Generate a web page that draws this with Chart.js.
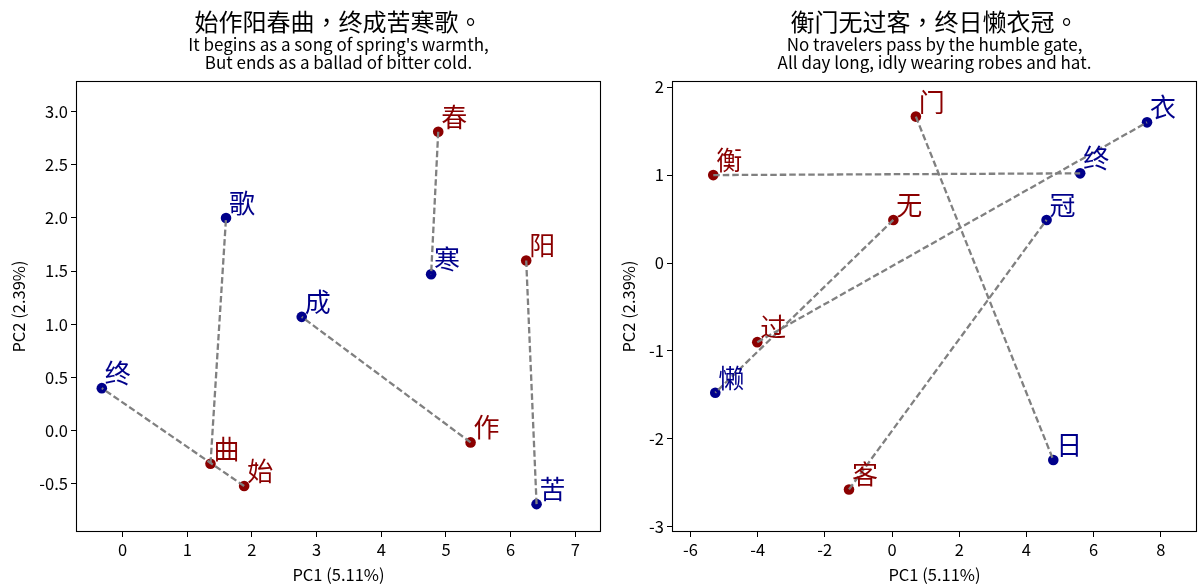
<!DOCTYPE html>
<html><head><meta charset="utf-8">
<script src="https://cdn.jsdelivr.net/npm/chart.js@4.4.1/dist/chart.umd.min.js"></script>
<style>
html,body{margin:0;padding:0;background:#fff;}
#wrap{position:relative;width:1198px;height:585px;overflow:hidden;}
canvas{position:absolute;top:0;}
</style></head><body>
<div id="wrap">
<canvas id="c1" width="603" height="585" style="left:0"></canvas>
<canvas id="c2" width="595" height="585" style="left:603px"></canvas>
</div>
<script>
const FONT = '"Noto Sans CJK TC", "Noto Sans CJK SC", "Noto Sans", sans-serif';
const RED = '#8b0000', BLUE = '#00008b', GRAY = '#808080';

// ---------- Left panel data ----------
const leftTitle = '始作阳春曲，终成苦寒歌。';
const leftSubtitle = ["It begins as a song of spring's warmth,", 'But ends as a ballad of bitter cold.'];
const leftLine1Chars = ['始', '作', '阳', '春', '曲'];
const leftLine1X = [1.88, 5.38, 6.24, 4.88, 1.36];
const leftLine1Y = [-0.52, -0.11, 1.60, 2.81, -0.31];
const leftLine2Chars = ['终', '成', '苦', '寒', '歌'];
const leftLine2X = [-0.32, 2.77, 6.40, 4.77, 1.60];
const leftLine2Y = [0.40, 1.07, -0.69, 1.47, 2.00];
const leftXTicks = [0, 1, 2, 3, 4, 5, 6, 7];
const leftYTicks = [-0.5, 0, 0.5, 1, 1.5, 2, 2.5, 3];
const leftXRange = [-0.719, 7.396];
const leftYRange = [-0.952, 3.287];

// ---------- Right panel data ----------
const rightTitle = '衡门无过客，终日懒衣冠。';
const rightSubtitle = ['No travelers pass by the humble gate,', 'All day long, idly wearing robes and hat.'];
const rightLine1Chars = ['衡', '门', '无', '过', '客'];
const rightLine1X = [-5.32, 0.71, 0.04, -4.01, -1.28];
const rightLine1Y = [1.00, 1.665, 0.49, -0.90, -2.575];
const rightLine2Chars = ['终', '日', '懒', '衣', '冠'];
const rightLine2X = [5.60, 4.80, -5.26, 7.59, 4.60];
const rightLine2Y = [1.02, -2.24, -1.475, 1.60, 0.49];
const rightXTicks = [-6, -4, -2, 0, 2, 4, 6, 8];
const rightYTicks = [-3, -2, -1, 0, 1, 2];
const rightXRange = [-6.548, 9.077];
const rightYRange = [-3.059, 2.070];

const xTitle = 'PC1 (5.11%)';
const yTitle = 'PC2 (2.39%)';

const framePlugin = {
  id: 'frame',
  afterDraw(chart) {
    const a = chart.chartArea, ctx = chart.ctx;
    ctx.save();
    ctx.strokeStyle = '#000';
    ctx.lineWidth = 1.1;
    ctx.strokeRect(Math.round(a.left) + 0.5, Math.round(a.top) + 0.5,
      Math.round(a.right - a.left) - 1, Math.round(a.bottom - a.top) - 1);
    ctx.restore();
  }
};

const labelPlugin = {
  id: 'ptLabels',
  afterDatasetsDraw(chart) {
    const ctx = chart.ctx;
    ctx.save();
    ctx.font = '26px ' + FONT;
    ctx.textAlign = 'left';
    ctx.textBaseline = 'alphabetic';
    chart.data.datasets.forEach((ds, di) => {
      if (!ds.labels) return;
      const meta = chart.getDatasetMeta(di);
      ctx.fillStyle = ds.backgroundColor;
      meta.data.forEach((pt, i) => {
        ctx.fillText(ds.labels[i], pt.x + 3, pt.y - 5);
      });
    });
    ctx.restore();
  }
};

const titlePlugin = {
  id: 'titles',
  afterDraw(chart, args, opts) {
    const ctx = chart.ctx;
    const a = chart.chartArea;
    const cx = (a.left + a.right) / 2;
    ctx.save();
    ctx.fillStyle = '#000';
    ctx.textAlign = 'center';
    ctx.textBaseline = 'alphabetic';
    ctx.font = '24px ' + FONT;
    ctx.fillText(opts.title, cx, 31);
    ctx.font = '17px ' + FONT;
    opts.subtitle.forEach((s, i) => ctx.fillText(s, cx, 51 + i * 17.5));
    ctx.restore();
  }
};

function makeChart(id, cfg) {
  const pts = (xs, ys) => xs.map((x, i) => ({ x: x, y: ys[i] }));
  const datasets = [];
  for (let i = 0; i < cfg.l1x.length; i++) {
    datasets.push({
      data: [{ x: cfg.l1x[i], y: cfg.l1y[i] }, { x: cfg.l2x[i], y: cfg.l2y[i] }],
      showLine: true, borderColor: GRAY, borderWidth: 2.3, borderDash: [6.5, 3],
      pointRadius: 0, order: 0
    });
  }
  datasets.push({ data: pts(cfg.l1x, cfg.l1y), labels: cfg.l1c, backgroundColor: RED,
    borderWidth: 0, pointRadius: 5.3, order: 1 });
  datasets.push({ data: pts(cfg.l2x, cfg.l2y), labels: cfg.l2c, backgroundColor: BLUE,
    borderWidth: 0, pointRadius: 5.3, order: 1 });

  const tickFont = { family: FONT, size: 16.5 };
  const axisTitleFont = { family: FONT, size: 16.5, lineHeight: 1.2 };
  return new Chart(document.getElementById(id), {
    type: 'scatter',
    data: { datasets: datasets },
    plugins: [framePlugin, labelPlugin, titlePlugin],
    options: {
      responsive: false,
      animation: false,
      events: [],
      layout: { autoPadding: false,
        padding: { left: cfg.padLeft, right: cfg.padRight, top: 81, bottom: 0 } },
      plugins: {
        legend: { display: false },
        tooltip: { enabled: false },
        titles: { title: cfg.title, subtitle: cfg.subtitle }
      },
      scales: {
        x: {
          type: 'linear', min: cfg.xr[0], max: cfg.xr[1],
          afterBuildTicks: s => { s.ticks = cfg.xt.map(v => ({ value: v })); },
          afterFit: s => { s.height = 585 - 532; s.paddingLeft = 0; s.paddingRight = 0; },
          ticks: { font: tickFont, color: '#000', padding: 3, maxRotation: 0,
            callback: v => cfg.xfmt(v) },
          grid: { display: true, drawOnChartArea: false, drawTicks: true, tickLength: 5,
            color: '#000', lineWidth: 1 },
          border: { display: false },
          title: { display: true, text: xTitle, font: axisTitleFont, color: '#000',
            padding: { top: 0, bottom: 0 } }
        },
        y: {
          type: 'linear', min: cfg.yr[0], max: cfg.yr[1],
          afterBuildTicks: s => { s.ticks = cfg.yt.map(v => ({ value: v })); },
          afterFit: s => { s.width = cfg.yWidth; s.paddingTop = 0; s.paddingBottom = 0; },
          ticks: { font: tickFont, color: '#000', padding: 3,
            callback: v => cfg.yfmt(v) },
          grid: { display: true, drawOnChartArea: false, drawTicks: true, tickLength: 5,
            color: '#000', lineWidth: 1 },
          border: { display: false },
          title: { display: true, text: yTitle, font: axisTitleFont, color: '#000',
            padding: { top: 8.5, bottom: 0 } }
        }
      }
    }
  });
}

makeChart('c1', {
  title: leftTitle, subtitle: leftSubtitle,
  l1c: leftLine1Chars, l1x: leftLine1X, l1y: leftLine1Y,
  l2c: leftLine2Chars, l2x: leftLine2X, l2y: leftLine2Y,
  xt: leftXTicks, yt: leftYTicks, xr: leftXRange, yr: leftYRange,
  xfmt: v => String(v), yfmt: v => v.toFixed(1),
  padLeft: 0, padRight: 2, yWidth: 76
});
makeChart('c2', {
  title: rightTitle, subtitle: rightSubtitle,
  l1c: rightLine1Chars, l1x: rightLine1X, l1y: rightLine1Y,
  l2c: rightLine2Chars, l2x: rightLine2X, l2y: rightLine2Y,
  xt: rightXTicks, yt: rightYTicks, xr: rightXRange, yr: rightYRange,
  xfmt: v => String(v), yfmt: v => String(v),
  padLeft: 7, padRight: 1, yWidth: 62
});
</script>
</body></html>
